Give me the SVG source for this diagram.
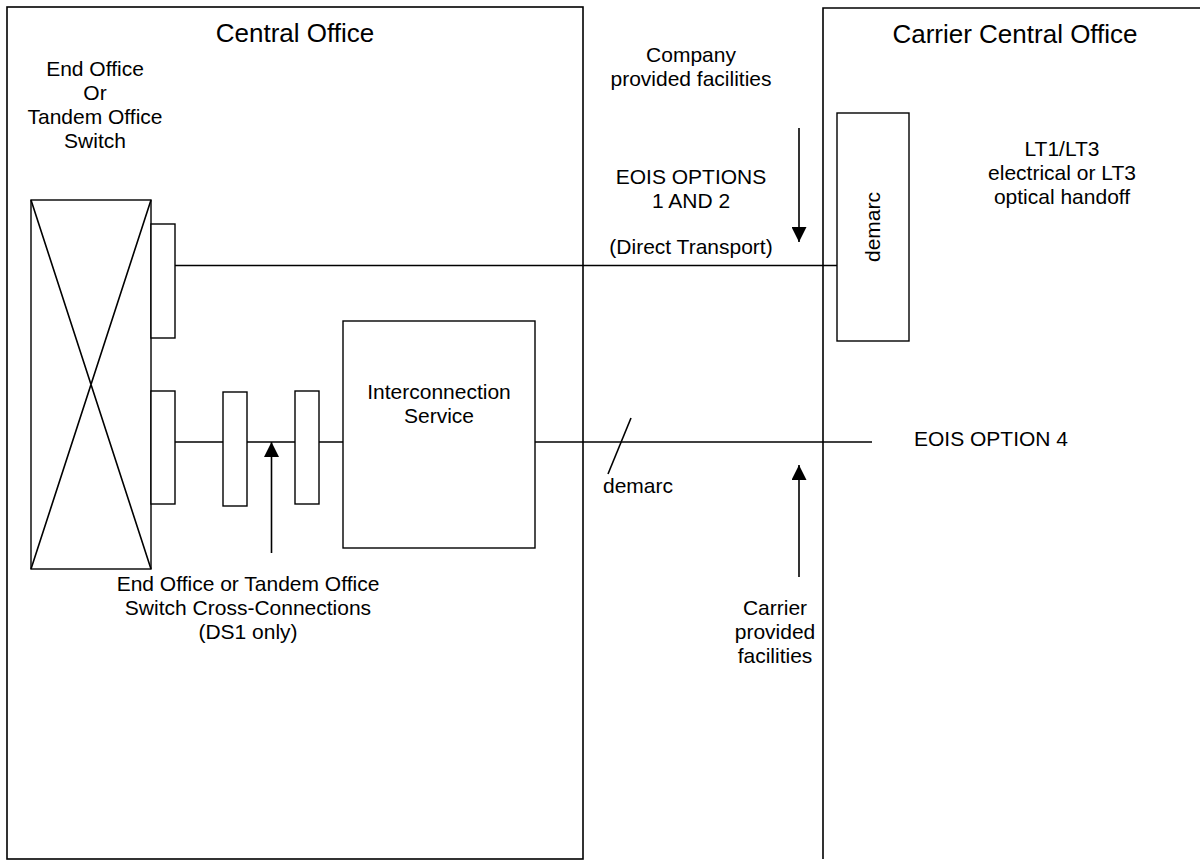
<svg xmlns="http://www.w3.org/2000/svg" width="1200" height="861" viewBox="0 0 1200 861">
<defs>
<style>
text{font-family:"Liberation Sans",Arial,sans-serif;fill:#000;font-size:21px;text-anchor:middle}
.title{font-size:26px}
.box{fill:#fff;stroke:#000;stroke-width:1.4}
.outer{fill:none;stroke:#000;stroke-width:1.6}
.ln{fill:none;stroke:#000;stroke-width:1.6}
</style>
<marker id="ah" markerWidth="15" markerHeight="15" refX="15" refY="7.5" orient="auto" markerUnits="userSpaceOnUse">
<path d="M0,0 L15,7.5 L0,15 Z" fill="#000"/>
</marker>
</defs>
<rect width="1200" height="861" fill="#fff"/>
<g id="central-office">
<rect class="outer" x="7" y="7" width="576" height="852"/>
<text class="title" x="295" y="42">Central Office</text>
</g>
<g id="carrier-central-office">
<path class="outer" d="M823,859 V8 H1210"/>
<text class="title" x="1015" y="43">Carrier Central Office</text>
</g>
<g id="switch">
<rect class="box" x="31" y="200" width="120" height="369"/>
<path class="ln" d="M31,200 L151,569 M151,200 L31,569" stroke-width="1.3"/>
<text x="95" y="76">End Office</text>
<text x="95" y="100">Or</text>
<text x="95" y="124">Tandem Office</text>
<text x="95" y="148">Switch</text>
</g>
<g id="connectors">
<line class="ln" x1="175" y1="265.5" x2="837" y2="265.5"/>
<line class="ln" x1="175" y1="442" x2="872" y2="442"/>
<line class="ln" x1="631" y1="418" x2="608" y2="474" stroke-width="1.3"/>
<line class="ln" x1="271.5" y1="553" x2="271.5" y2="442" marker-end="url(#ah)"/>
<line class="ln" x1="799" y1="128" x2="799" y2="242" marker-end="url(#ah)"/>
<line class="ln" x1="799" y1="577" x2="799" y2="465" marker-end="url(#ah)"/>
</g>
<g id="port1"><rect class="box" x="151" y="224" width="24" height="114"/></g>
<g id="port2"><rect class="box" x="151" y="391" width="24" height="113"/></g>
<g id="cross1"><rect class="box" x="223" y="392" width="24" height="114"/></g>
<g id="cross2"><rect class="box" x="295" y="391" width="24" height="113"/></g>
<g id="interconnection-service">
<rect class="box" x="343" y="321" width="192" height="227"/>
<text x="439" y="399">Interconnection</text>
<text x="439" y="423">Service</text>
</g>
<g id="demarc-box">
<rect class="box" x="837" y="113" width="72" height="228"/>
<text transform="translate(880,227) rotate(-90)">demarc</text>
</g>
<g id="labels">
<text x="691" y="62">Company</text>
<text x="691" y="86">provided facilities</text>
<text x="691" y="184">EOIS OPTIONS</text>
<text x="691" y="208">1 AND 2</text>
<text x="691" y="254">(Direct Transport)</text>
<text x="1062" y="156">LT1/LT3</text>
<text x="1062" y="180">electrical or LT3</text>
<text x="1062" y="204">optical handoff</text>
<text x="638" y="493">demarc</text>
<text x="991" y="446">EOIS OPTION 4</text>
<text x="775" y="615">Carrier</text>
<text x="775" y="639">provided</text>
<text x="775" y="663">facilities</text>
<text x="248" y="591">End Office or Tandem Office</text>
<text x="248" y="615">Switch Cross-Connections</text>
<text x="248" y="639">(DS1 only)</text>
</g>
</svg>
